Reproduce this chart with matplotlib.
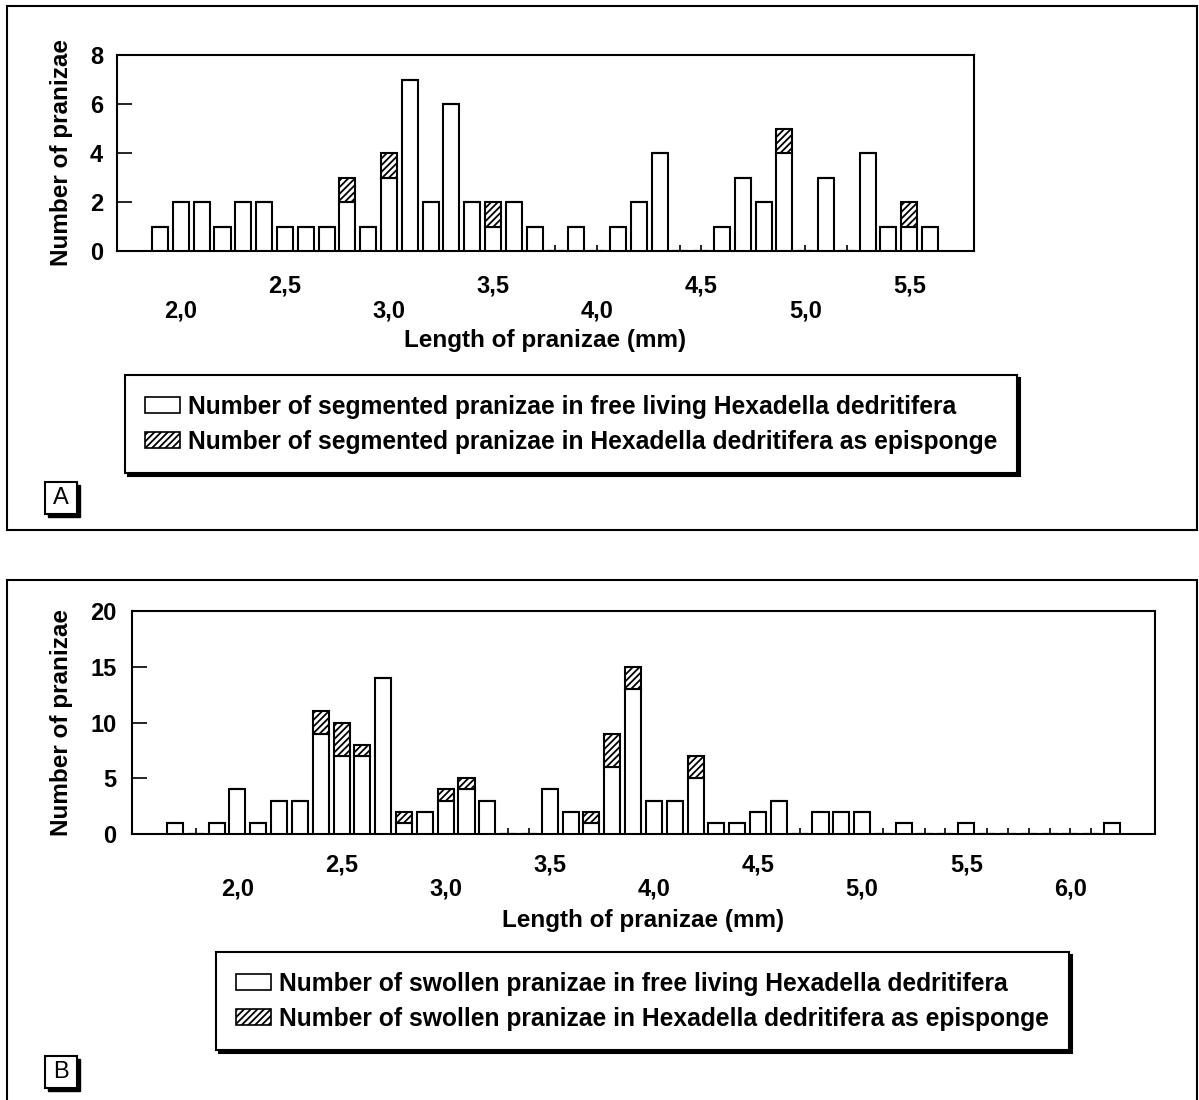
import numpy as np
import matplotlib.pyplot as plt
from matplotlib.patches import Rectangle, Patch
from matplotlib.ticker import FixedLocator

plt.rcParams['font.family'] = ['Liberation Sans', 'DejaVu Sans']
plt.rcParams['font.weight'] = 'bold'
plt.rcParams['axes.labelweight'] = 'bold'
plt.rcParams['hatch.linewidth'] = 1.3

# --- data: panel A (segmented pranizae), bins of 0.1 mm ---
len_a = [1.9, 2.0, 2.1, 2.2, 2.3, 2.4, 2.5, 2.6, 2.7, 2.8, 2.9, 3.0, 3.1, 3.2, 3.3, 3.4, 3.5, 3.6, 3.7,
         3.8, 3.9, 4.0, 4.1, 4.2, 4.3, 4.4, 4.5, 4.6, 4.7, 4.8, 4.9, 5.0, 5.1, 5.2, 5.3, 5.4, 5.5, 5.6]
free_a = [1, 2, 2, 1, 2, 2, 1, 1, 1, 2, 1, 3, 7, 2, 6, 2, 1, 2, 1,
          0, 1, 0, 1, 2, 4, 0, 0, 1, 3, 2, 4, 0, 3, 0, 4, 1, 1, 1]
epi_a = [0, 0, 0, 0, 0, 0, 0, 0, 0, 1, 0, 1, 0, 0, 0, 0, 1, 0, 0,
         0, 0, 0, 0, 0, 0, 0, 0, 0, 0, 0, 1, 0, 0, 0, 0, 0, 1, 0]
xt_a = [2.0, 2.5, 3.0, 3.5, 4.0, 4.5, 5.0, 5.5]
xtl_a = ['2,0', '2,5', '3,0', '3,5', '4,0', '4,5', '5,0', '5,5']
yt_a = [0, 2, 4, 6, 8]
leg_a = ['Number of segmented pranizae in free living Hexadella dedritifera',
         'Number of segmented pranizae in Hexadella dedritifera as episponge']

# --- data: panel B (swollen pranizae) ---
len_b = [1.7, 1.8, 1.9, 2.0, 2.1, 2.2, 2.3, 2.4, 2.5, 2.6, 2.7, 2.8, 2.9, 3.0, 3.1, 3.2, 3.3, 3.4,
         3.5, 3.6, 3.7, 3.8, 3.9, 4.0, 4.1, 4.2, 4.3, 4.4, 4.5, 4.6, 4.7, 4.8, 4.9, 5.0, 5.1, 5.2,
         5.3, 5.4, 5.5, 5.6, 5.7, 5.8, 5.9, 6.0, 6.1, 6.2]
free_b = [1, 0, 1, 4, 1, 3, 3, 9, 7, 7, 14, 1, 2, 3, 4, 3, 0, 0,
          4, 2, 1, 6, 13, 3, 3, 5, 1, 1, 2, 3, 0, 2, 2, 2, 0, 1,
          0, 0, 1, 0, 0, 0, 0, 0, 0, 1]
epi_b = [0, 0, 0, 0, 0, 0, 0, 2, 3, 1, 0, 1, 0, 1, 1, 0, 0, 0,
         0, 0, 1, 3, 2, 0, 0, 2, 0, 0, 0, 0, 0, 0, 0, 0, 0, 0,
         0, 0, 0, 0, 0, 0, 0, 0, 0, 0]
xt_b = [2.0, 2.5, 3.0, 3.5, 4.0, 4.5, 5.0, 5.5, 6.0]
xtl_b = ['2,0', '2,5', '3,0', '3,5', '4,0', '4,5', '5,0', '5,5', '6,0']
yt_b = [0, 5, 10, 15, 20]
leg_b = ['Number of swollen pranizae in free living Hexadella dedritifera',
         'Number of swollen pranizae in Hexadella dedritifera as episponge']

W, H = 1199, 1100
fig = plt.figure(figsize=(W / 100, H / 100), dpi=100)


def fx(px):
    return px / W


def fy(py):
    return 1 - py / H


def draw_panel(box, lens, free, epi, xlim, ylim, yticks, xt, xtl, pads, ylab_x, xlab_y, ytpad):
    l, t, r, b = box
    ax = fig.add_axes([fx(l), fy(b), fx(r - l), (b - t) / H])
    ax.bar(lens, free, width=0.077, color='white', edgecolor='black', linewidth=1.5, zorder=3)
    ax.bar(lens, epi, bottom=free, width=0.077, color='white', edgecolor='black',
           hatch='/////', linewidth=1.5, zorder=3)
    ax.set_xlim(*xlim)
    ax.set_ylim(*ylim)
    ax.set_yticks(yticks)
    ax.set_xticks(xt)
    ax.set_xticklabels(xtl)
    ax.xaxis.set_minor_locator(FixedLocator(lens))
    ax.tick_params(axis='x', which='both', direction='in', length=4.5, width=1.2, labelsize=17)
    ax.tick_params(axis='y', direction='in', length=11, width=1.2, labelsize=17, pad=ytpad)
    # staggered tick labels: half-mm labels on the upper row
    for i, tick in enumerate(ax.xaxis.get_major_ticks()):
        tick.set_pad(pads[1] if i % 2 == 0 else pads[0])
    for s in ax.spines.values():
        s.set_linewidth(1.5)
    ax.set_ylabel('Number of pranizae', fontsize=17.5)
    ax.yaxis.set_label_coords(ylab_x, 0.5)
    ax.set_xlabel('Length of pranizae (mm)', fontsize=17.5)
    ax.xaxis.set_label_coords(0.5, xlab_y)
    return ax


def draw_legend(labels, x, y):
    handles = [Patch(facecolor='white', edgecolor='black', linewidth=1.2),
               Patch(facecolor='white', edgecolor='black', hatch='/////', linewidth=1.2)]
    leg = fig.legend(handles, labels, loc='upper left', bbox_to_anchor=(fx(x), fy(y)),
                     fontsize=17.7, frameon=True, fancybox=False, framealpha=1,
                     edgecolor='black', shadow={'color': 'black', 'alpha': 1},
                     handlelength=1.45, handleheight=0.62, handletextpad=0.33,
                     borderpad=0.8, labelspacing=0.45, borderaxespad=0)
    leg.get_frame().set_linewidth(1.5)


def draw_letter(letter, x, y):
    fig.add_artist(Rectangle((fx(x + 3), fy(y + 35)), 32 / W, 32 / H, transform=fig.transFigure,
                             facecolor='black', edgecolor='black'))
    fig.add_artist(Rectangle((fx(x), fy(y + 32)), 32 / W, 32 / H, transform=fig.transFigure,
                             facecolor='white', edgecolor='black', linewidth=1.5))
    fig.text(fx(x + 16), fy(y + 16), letter, fontsize=17, fontweight='normal', ha='center', va='center')


# outer panel frames
fig.add_artist(Rectangle((fx(7), fy(530)), fx(1190), (530 - 6) / H, transform=fig.transFigure,
                         fill=False, edgecolor='black', linewidth=1.5))
fig.add_artist(Rectangle((fx(7), -0.05), fx(1190), fy(580) + 0.05, transform=fig.transFigure,
                         fill=False, edgecolor='black', linewidth=1.5))

draw_panel((117, 55, 974, 251), len_a, free_a, epi_a, (1.693, 5.811), (0, 8), yt_a, xt_a, xtl_a,
           (17, 35), -0.0513, -0.40, 10)
draw_panel((132, 611, 1155, 834), len_b, free_b, epi_b, (1.4935, 6.4065), (0, 20), yt_b, xt_b, xtl_b,
           (14, 31), -0.0577, -0.335, 11)

draw_legend(leg_a, 125, 375)
draw_legend(leg_b, 216, 952)

draw_letter('A', 45, 482)
draw_letter('B', 45, 1056)

fig.savefig('out.png', dpi=100)
